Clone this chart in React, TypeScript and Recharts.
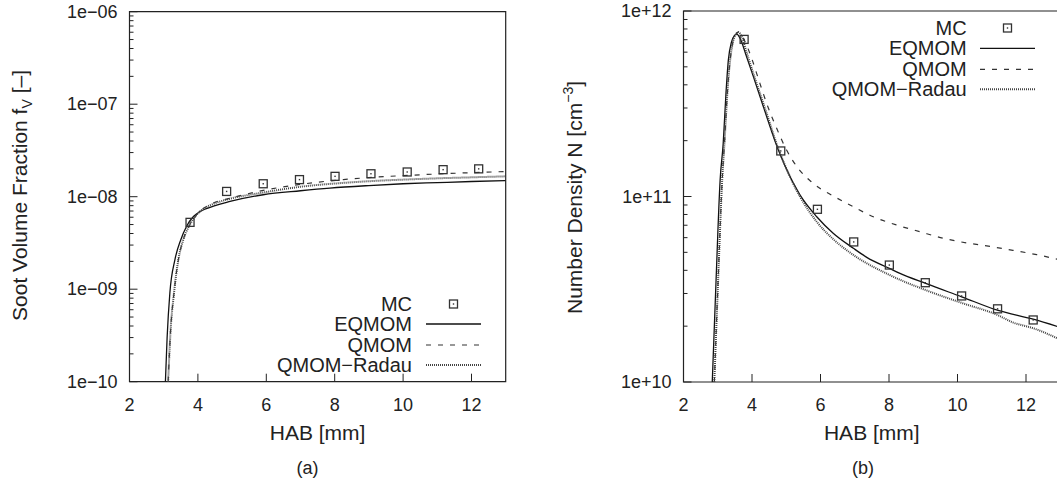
import React from 'react';
import { ComposedChart, Line, Scatter, XAxis, YAxis, ReferenceArea } from 'recharts';

// HAB positions of the MC samples (same in both panels)
const mcHab = [3.77, 4.84, 5.91, 6.97, 8.01, 9.06, 10.12, 11.17, 12.21];
const mcFv = [5.28e-9, 1.14e-8, 1.38e-8, 1.53e-8, 1.66e-8, 1.77e-8, 1.85e-8, 1.96e-8, 2.0e-8];
const mcN = [7.03e11, 1.76e11, 8.53e10, 5.69e10, 4.27e10, 3.43e10, 2.91e10, 2.48e10, 2.16e10];

// (a) soot volume fraction
const eqFvHab = [3.05, 3.1, 3.18, 3.33, 3.5, 3.67, 3.87, 4.06, 4.5, 4.84, 5.0, 5.91, 7.0, 7.86, 9.0, 10.0, 11.0, 12.0, 13.0];
const eqFv = [1e-10, 3e-10, 9.1e-10, 2.1e-9, 3.43e-9, 4.8e-9, 6.1e-9, 6.9e-9, 8.0e-9, 8.7e-9, 9.0e-9, 1.05e-8, 1.16e-8, 1.24e-8, 1.32e-8, 1.38e-8, 1.42e-8, 1.46e-8, 1.49e-8];

const qmFvHab = [3.13, 3.2, 3.3, 3.43, 3.57, 3.74, 3.92, 4.1, 4.3, 4.5, 4.84, 5.91, 7.0, 8.25, 9.0, 10.0, 11.0, 12.0, 13.0];
const qmFv = [1e-10, 3.5e-10, 9e-10, 2.1e-9, 3.4e-9, 4.8e-9, 6.1e-9, 7.2e-9, 8.0e-9, 8.7e-9, 9.4e-9, 1.17e-8, 1.36e-8, 1.53e-8, 1.61e-8, 1.69e-8, 1.76e-8, 1.82e-8, 1.87e-8];

const rdFvHab = [3.13, 3.2, 3.3, 3.43, 3.57, 3.74, 3.92, 4.1, 4.3, 4.5, 4.84, 5.91, 7.0, 8.25, 9.0, 10.0, 11.0, 12.0, 13.0];
const rdFv = [1e-10, 3.5e-10, 9e-10, 2.1e-9, 3.4e-9, 4.8e-9, 6.1e-9, 7.1e-9, 7.9e-9, 8.5e-9, 9.3e-9, 1.11e-8, 1.28e-8, 1.41e-8, 1.47e-8, 1.53e-8, 1.58e-8, 1.62e-8, 1.66e-8];

// (b) number density
const eqNHab = [2.84, 2.95, 3.07, 3.16, 3.24, 3.31, 3.4, 3.48, 3.56, 3.65, 3.84, 4.04, 4.43, 4.72, 5.0, 5.4, 5.89, 6.37, 6.96, 7.35, 8.01, 8.32, 9.07, 10.12, 11.16, 12.21, 13.0];
const eqN = [1e10, 3.5e10, 1.23e11, 1.94e11, 3.6e11, 5.45e11, 6.8e11, 7.35e11, 7.5e11, 7.13e11, 5.68e11, 4.43e11, 2.69e11, 1.88e11, 1.41e11, 1.02e11, 7.78e10, 6.34e10, 5.26e10, 4.7e10, 4.1e10, 3.85e10, 3.4e10, 2.88e10, 2.44e10, 2.18e10, 1.97e10];

const qmNHab = [2.9, 3.01, 3.13, 3.2, 3.28, 3.36, 3.45, 3.53, 3.6, 3.75, 3.99, 4.23, 4.48, 4.72, 5.01, 5.4, 5.69, 6.0, 6.23, 6.86, 7.54, 8.22, 8.9, 9.59, 10.27, 10.95, 11.63, 12.31, 13.0];
const qmN = [1e10, 3.5e10, 1.23e11, 2.0e11, 3.6e11, 5.4e11, 6.9e11, 7.5e11, 7.7e11, 7.1e11, 5.56e11, 4.07e11, 2.99e11, 2.33e11, 1.78e11, 1.38e11, 1.22e11, 1.1e11, 1.04e11, 9.0e10, 7.78e10, 7.02e10, 6.46e10, 5.95e10, 5.62e10, 5.38e10, 5.12e10, 4.86e10, 4.55e10];

const rdNHab = [2.9, 3.01, 3.13, 3.2, 3.28, 3.36, 3.45, 3.53, 3.6, 3.68, 3.84, 4.04, 4.43, 4.72, 5.0, 5.4, 5.89, 6.37, 6.96, 8.01, 9.07, 10.12, 11.16, 11.63, 12.21, 13.0];
const rdN = [1e10, 3.5e10, 1.23e11, 2.0e11, 3.6e11, 5.4e11, 6.9e11, 7.5e11, 7.7e11, 7.4e11, 6.0e11, 4.6e11, 2.8e11, 1.92e11, 1.42e11, 1.0e11, 7.31e10, 5.89e10, 4.84e10, 3.78e10, 3.13e10, 2.67e10, 2.3e10, 2.09e10, 1.95e10, 1.69e10];

const xTicks = [2, 4, 6, 8, 10, 12];
const fvDecades = [-10, -9, -8, -7, -6];
const nDecades = [10, 11, 12];

const pts = (xs: number[], ys: number[]) => xs.map((x, i) => ({ x, y: ys[i] }));

const logTicks = (decades: number[]) => {
  const out: number[] = [];
  decades.forEach((d, i) => {
    out.push(Math.pow(10, d));
    if (i < decades.length - 1) for (let k = 2; k <= 9; k++) out.push(k * Math.pow(10, d));
  });
  return out;
};

const INK = '#222';
const FONT = '"Liberation Sans", Arial, Helvetica, sans-serif';

const expLabel = (v: number) => {
  const e = Math.round(Math.log10(v));
  const s = String(Math.abs(e)).padStart(2, '0');
  return `1e${e < 0 ? '\u2212' : '+'}${s}`;
};

const YTick = (props: any) => {
  const { x, y, payload } = props;
  const v = payload.value;
  const lg = Math.log10(v);
  const major = Math.abs(lg - Math.round(lg)) < 1e-6;
  const ax = x + 12;
  return (
    <g>
      <line x1={ax} x2={ax + (major ? 8 : 4)} y1={y} y2={y} stroke={INK} strokeWidth={1} />
      {major && (
        <text x={x} y={y + 6} textAnchor="end" fontSize={18} fill={INK} fontFamily={FONT}>
          {expLabel(v)}
        </text>
      )}
    </g>
  );
};

const XTick = (props: any) => {
  const { x, y, payload } = props;
  return (
    <g>
      <line x1={x} x2={x} y1={y} y2={y - 8} stroke={INK} strokeWidth={1} />
      <text x={x} y={y + 29} textAnchor="middle" fontSize={18} fill={INK} fontFamily={FONT}>
        {payload.value}
      </text>
    </g>
  );
};

const Square = (props: any) => {
  const { cx, cy } = props;
  return (
    <g>
      <rect x={cx - 4} y={cy - 4} width={8} height={8} fill="none" stroke="#333" strokeWidth={1.3} />
      <rect x={cx - 0.7} y={cy - 0.7} width={1.4} height={1.4} fill="#333" />
    </g>
  );
};

type PanelProps = {
  left: number;
  width: number;
  margin: { top: number; right: number; bottom: number; left: number };
  yDomain: [number, number];
  yTicks: number[];
  mc: { x: number; y: number }[];
  eq: { x: number; y: number }[];
  qm: { x: number; y: number }[];
  rd: { x: number; y: number }[];
};

const Panel: React.FC<PanelProps> = ({ left, width, margin, yDomain, yTicks, mc, eq, qm, rd }) => (
  <div style={{ position: 'absolute', left, top: 0 }}>
    <ComposedChart width={width} height={484} margin={margin}>
      <XAxis
        type="number"
        dataKey="x"
        domain={[2, 13]}
        ticks={xTicks}
        allowDataOverflow
        height={30}
        tickSize={0}
        tickMargin={0}
        axisLine={false}
        tickLine={false}
        interval={0}
        tick={<XTick />}
      />
      <YAxis
        type="number"
        dataKey="y"
        scale="log"
        domain={yDomain}
        ticks={yTicks}
        allowDataOverflow
        width={60}
        tickSize={0}
        tickMargin={12}
        axisLine={false}
        tickLine={false}
        interval={0}
        tick={<YTick />}
      />
      <ReferenceArea x1={2} x2={13} y1={yDomain[0]} y2={yDomain[1]} fill="none" stroke={INK} strokeWidth={1.2} ifOverflow="visible" />
      <Line data={eq} dataKey="y" type="monotone" stroke="#111" strokeWidth={1.3} dot={false} isAnimationActive={false} />
      <Line data={qm} dataKey="y" type="monotone" stroke="#333" strokeWidth={1.2} strokeDasharray="5 7" dot={false} isAnimationActive={false} />
      <Line data={rd} dataKey="y" type="monotone" stroke="#444" strokeWidth={2} strokeDasharray="1 1" dot={false} isAnimationActive={false} />
      <Scatter data={mc} dataKey="y" shape={<Square />} isAnimationActive={false} />
    </ComposedChart>
  </div>
);

const LegendBlock: React.FC<{ textX: number; lineX1: number; lineX2: number; rows: number[] }> = ({ textX, lineX1, lineX2, rows }) => {
  const names = ['MC', 'EQMOM', 'QMOM', 'QMOM\u2212Radau'];
  const mid = (lineX1 + lineX2) / 2;
  return (
    <g>
      {names.map((n, i) => (
        <text key={n} x={textX} y={rows[i] + 7} textAnchor="end" fontSize={20} fill={INK} fontFamily={FONT}>
          {n}
        </text>
      ))}
      <Square cx={mid} cy={rows[0]} />
      <line x1={lineX1} x2={lineX2} y1={rows[1]} y2={rows[1]} stroke="#111" strokeWidth={1.3} />
      <line x1={lineX1} x2={lineX2} y1={rows[2]} y2={rows[2]} stroke="#333" strokeWidth={1.2} strokeDasharray="5 7" />
      <line x1={lineX1} x2={lineX2} y1={rows[3]} y2={rows[3]} stroke="#444" strokeWidth={2} strokeDasharray="1 1" />
    </g>
  );
};

export default function App() {
  return (
    <div style={{ position: 'absolute', left: 0, top: 0, width: 1057, height: 484, overflow: 'hidden', background: '#fff', fontFamily: FONT }}>
      <Panel
        left={0}
        width={530}
        margin={{ top: 11.7, right: 24.3, bottom: 72.3, left: 69.5 }}
        yDomain={[1e-10, 1e-6]}
        yTicks={logTicks(fvDecades)}
        mc={pts(mcHab, mcFv)}
        eq={pts(eqFvHab, eqFv)}
        qm={pts(qmFvHab, qmFv)}
        rd={pts(rdFvHab, rdFv)}
      />
      <Panel
        left={527}
        width={540}
        margin={{ top: 11, right: 6.75, bottom: 72, left: 96.5 }}
        yDomain={[1e10, 1e12]}
        yTicks={logTicks(nDecades)}
        mc={pts(mcHab, mcN)}
        eq={pts(eqNHab, eqN)}
        qm={pts(qmNHab, qmN)}
        rd={pts(rdNHab, rdN)}
      />
      <svg width={1057} height={484} style={{ position: 'absolute', left: 0, top: 0, pointerEvents: 'none' }}>
        <LegendBlock textX={412} lineX1={426} lineX2={481} rows={[304, 324, 345, 365]} />
        <LegendBlock textX={966.7} lineX1={980} lineX2={1035} rows={[28, 48.3, 69.3, 89.3]} />

        <text x={317.6} y={440} textAnchor="middle" fontSize={21} fill={INK} fontFamily={FONT}>HAB [mm]</text>
        <text x={871.8} y={440} textAnchor="middle" fontSize={21} fill={INK} fontFamily={FONT}>HAB [mm]</text>

        <text x={20} y={195.5} dy={7} textAnchor="middle" fontSize={21} fill={INK} fontFamily={FONT} transform="rotate(-90 20 195.5)">
          Soot Volume Fraction f<tspan dy={5} fontSize={14}>V</tspan><tspan dy={-5}> [–]</tspan>
        </text>
        <text x={575} y={197.5} dy={7} textAnchor="middle" fontSize={21} fill={INK} fontFamily={FONT} transform="rotate(-90 575 197.5)">
          Number Density N [cm<tspan dy={-9} fontSize={14}>−3</tspan><tspan dy={9}>]</tspan>
        </text>

        <text x={307.5} y={474} textAnchor="middle" fontSize={18} fill={INK} fontFamily={FONT}>(a)</text>
        <text x={863} y={474} textAnchor="middle" fontSize={18} fill={INK} fontFamily={FONT}>(b)</text>
      </svg>
    </div>
  );
}
